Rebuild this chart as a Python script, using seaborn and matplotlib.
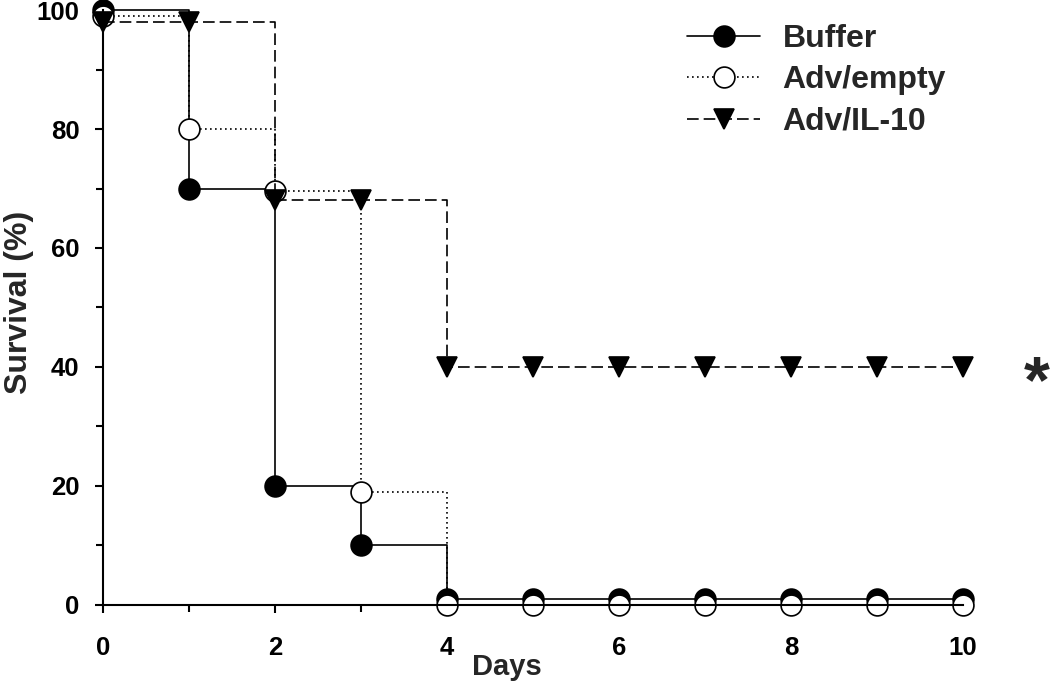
import numpy as np
import pandas as pd
import seaborn as sns
import matplotlib.pyplot as plt
from matplotlib.ticker import MultipleLocator

sns.set_style("ticks")
plt.rcParams['font.family'] = ['Liberation Sans', 'DejaVu Sans']
plt.rcParams['font.weight'] = 'bold'

# survival data
days = [0, 1, 2, 3, 4, 5, 6, 7, 8, 9, 10]
buffer_surv = [100, 70, 20, 10, 1, 1, 1, 1, 1, 1, 1]
empty_surv = [99, 80, 69.5, 19, 0, 0, 0, 0, 0, 0, 0]
il10_surv = [98, 98, 68, 68, 40, 40, 40, 40, 40, 40, 40]
labels = ['Buffer', 'Adv/empty', 'Adv/IL-10']

fig = plt.figure(figsize=(10.5, 6.91), dpi=100)
ax = fig.add_axes([0.098, 0.1245, 0.819, 0.861])

styles = [
    dict(marker='o', markerfacecolor='black', linestyle='-'),
    dict(marker='o', markerfacecolor='white', linestyle=(0, (1, 2))),
    dict(marker='v', markerfacecolor='black', linestyle=(0, (7, 3))),
]
for lab, surv, st in zip(labels, [buffer_surv, empty_surv, il10_surv], styles):
    df = pd.DataFrame({'day': days, 'survival': surv})
    sns.lineplot(data=df, x='day', y='survival', ax=ax, color='black',
                 drawstyle='steps-post', markersize=15, markeredgecolor='black',
                 markeredgewidth=1.2, linewidth=1.2, label=lab, clip_on=False, **st)

ax.set_xlim(0, 10)
ax.set_ylim(0, 100)
ax.xaxis.set_major_locator(MultipleLocator(2))
ax.xaxis.set_minor_locator(MultipleLocator(1))
ax.yaxis.set_major_locator(MultipleLocator(20))
ax.yaxis.set_minor_locator(MultipleLocator(10))
ax.tick_params(which='both', direction='out', width=1.5, labelsize=18.5, colors='black')
ax.tick_params(which='major', length=6)
ax.tick_params(which='minor', length=5)
ax.tick_params(axis='x', which='major', pad=16)
ax.tick_params(axis='y', which='major', pad=11)
for lbl in ax.get_xticklabels() + ax.get_yticklabels():
    lbl.set_fontweight('bold')
sns.despine(ax=ax)
for s in ['left', 'bottom']:
    ax.spines[s].set_linewidth(1.5)
    ax.spines[s].set_color('black')

ax.set_xlabel('Days', fontsize=21, fontweight='bold')
ax.set_ylabel('Survival (%)', fontsize=23, fontweight='bold')
ax.xaxis.set_label_coords(0.47, -0.08)
ax.yaxis.set_label_coords(-0.080, 0.508)

ax.legend(loc='upper left', bbox_to_anchor=(0.679, 0.977), frameon=False,
          fontsize=23, handlelength=2.3, handletextpad=0.7, labelspacing=0.36,
          borderpad=0, borderaxespad=0, numpoints=1)

ax.text(10.86, 37, '*', fontsize=48, fontweight='bold', ha='center',
        va='center', clip_on=False)

fig.savefig('out.png', dpi=100)
